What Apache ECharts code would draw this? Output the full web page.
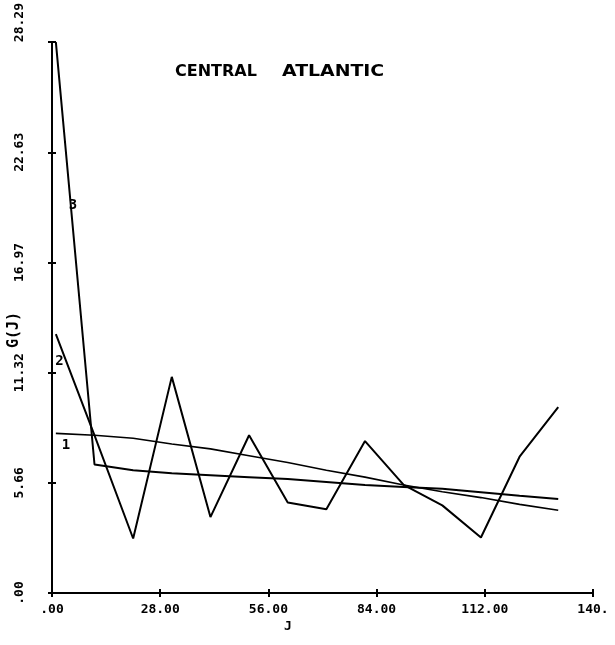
<!DOCTYPE html>
<html>
<head>
<meta charset="utf-8">
<script src="https://cdn.jsdelivr.net/npm/echarts@6/dist/echarts.min.js"></script>
<style>
  html, body { margin: 0; padding: 0; background: #fff; }
  #chart { width: 615px; height: 645px; }
</style>
</head>
<body>
<div id="chart"></div>
<script>
// Sample index J
const jValues = [1, 11, 21, 31, 41, 51, 61, 71, 81, 91, 101, 111, 121, 131];

// G(J) curves
const curve1 = [8.2, 8.1, 7.95, 7.65, 7.4, 7.05, 6.7, 6.3, 5.95, 5.55, 5.2, 4.9, 4.55, 4.25];
const curve2 = [13.3, 8.1, 2.8, 11.1, 3.9, 8.1, 4.65, 4.3, 7.8, 5.55, 4.5, 2.85, 7.0, 9.55];
const curve3 = [28.29, 6.6, 6.3, 6.15, 6.05, 5.95, 5.85, 5.7, 5.55, 5.45, 5.35, 5.18, 5.0, 4.83];

// Curve tags and where they sit (data coordinates)
const curveTags = ['1', '2', '3'];
const tagPositions = [[3.6, 7.6], [1.9, 11.9], [5.4, 19.9]];

// Axis tick labels
const xTickLabels = ['.00', '28.00', '56.00', '84.00', '112.00', '140.'];
const yTickLabels = ['.00', '5.66', '11.32', '16.97', '22.63', '28.29'];

const xStep = 28;
const yStep = 5.658;
const yMax = 28.29;

const font = '"DejaVu Sans Mono", monospace';

function pairs(xs, ys) { return xs.map((x, i) => [x, ys[i]]); }

function lineSeries(values, width, tagIndex) {
  return {
    type: 'line',
    data: pairs(jValues, values),
    showSymbol: false,
    symbol: 'none',
    lineStyle: { color: '#000', width: width },
    animation: false,
    markPoint: {
      symbol: 'circle',
      symbolSize: 0,
      silent: true,
      data: [{ coord: tagPositions[tagIndex] }],
      label: {
        show: true,
        position: 'inside',
        formatter: curveTags[tagIndex],
        color: '#000',
        fontFamily: font,
        fontWeight: 'bold',
        fontSize: 14
      }
    }
  };
}

const chart = echarts.init(document.getElementById('chart'), null, { renderer: 'canvas' });

const tickStyle = { color: '#000', width: 2 };
const hiddenLine = { show: false };
const titleFont = 'bold 16px "DejaVu Sans", sans-serif';

chart.setOption({
  backgroundColor: '#fff',
  animation: false,
  grid: { left: 52, top: 42, right: 22, bottom: 52, containLabel: false },
  xAxis: [
    {
      type: 'value', position: 'bottom', min: 0, max: 140, interval: xStep,
      axisLine: { show: true, lineStyle: { color: '#000', width: 2 } },
      axisTick: { show: false },
      axisLabel: {
        color: '#000', fontFamily: font, fontWeight: 'bold', fontSize: 13, margin: 10,
        formatter: v => xTickLabels[Math.round(v / xStep)]
      },
      splitLine: { show: false }
    },
    {
      // tick marks that straddle the axis line
      type: 'value', position: 'bottom', offset: -4, min: 0, max: 140, interval: xStep,
      axisLine: hiddenLine,
      axisTick: { show: true, inside: false, length: 8, lineStyle: tickStyle },
      axisLabel: { show: false },
      splitLine: { show: false }
    }
  ],
  yAxis: [
    {
      type: 'value', position: 'left', min: 0, max: yMax, interval: yStep,
      axisLine: { show: true, lineStyle: { color: '#000', width: 2 } },
      axisTick: { show: false },
      axisLabel: {
        color: '#000', fontFamily: font, fontWeight: 'bold', fontSize: 13, rotate: 90, margin: 26,
        alignMaxLabel: 'left',
        formatter: v => yTickLabels[Math.round(v / yStep)]
      },
      splitLine: { show: false }
    },
    {
      type: 'value', position: 'left', offset: -4, min: 0, max: yMax, interval: yStep,
      axisLine: hiddenLine,
      axisTick: { show: true, inside: false, length: 8, lineStyle: tickStyle },
      axisLabel: { show: false },
      splitLine: { show: false }
    }
  ],
  series: [
    lineSeries(curve1, 1.6, 0),
    lineSeries(curve2, 2, 1),
    lineSeries(curve3, 2, 2)
  ],
  graphic: [
    {
      type: 'text', x: 175, y: 64,
      style: { text: 'CENTRAL', fill: '#000', font: titleFont }
    },
    {
      type: 'text', x: 282, y: 64, scaleX: 1.18,
      style: { text: 'ATLANTIC', fill: '#000', font: titleFont }
    },
    {
      type: 'text', x: 14, y: 330, rotation: Math.PI / 2,
      style: { text: 'G(J)', fill: '#000', font: 'bold 15px "DejaVu Sans Mono", monospace', align: 'center', verticalAlign: 'middle' }
    },
    {
      type: 'text', left: 284, top: 620,
      style: { text: 'J', fill: '#000', font: 'bold 13px "DejaVu Sans Mono", monospace' }
    }
  ]
});
</script>
</body>
</html>
